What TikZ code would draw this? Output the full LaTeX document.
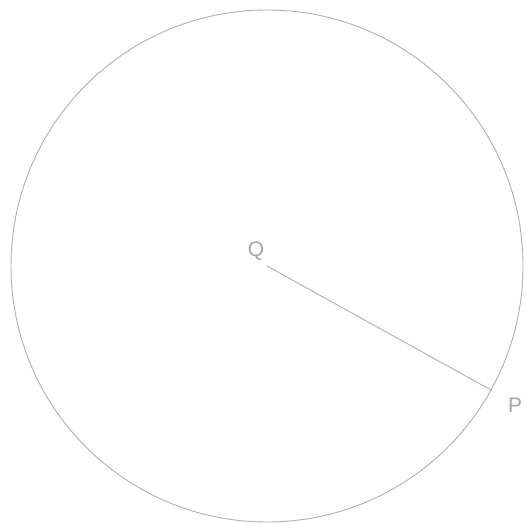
\documentclass[tikz,border=0pt]{standalone}
\usepackage{fontspec}
\setmainfont{Liberation Sans}
\usetikzlibrary{calc}
\definecolor{linegray}{RGB}{175,175,175}
\definecolor{textgray}{RGB}{165,165,165}
\begin{document}
\begin{tikzpicture}[x=1pt,y=-1pt,
  edge/.style={draw=linegray,line width=0.9pt},
  lbl/.style={text=textgray,font=\fontsize{21}{21}\selectfont,inner sep=0pt}]
\useasboundingbox (0,0) rectangle (527,524);
\coordinate (O) at (267,266);
\draw[edge] (O) circle[radius=256];
\coordinate (Pt) at (491,390);
\node[lbl] (Q) at (256,251) {Q};
\node[lbl] (P) at (515,405) {P};
\draw[edge] (O) -- (Pt);
\end{tikzpicture}
\end{document}
